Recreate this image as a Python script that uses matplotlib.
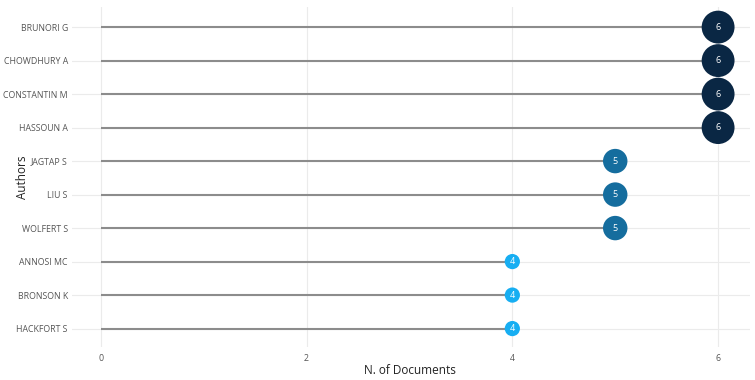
import matplotlib

matplotlib.use("Agg")

import matplotlib.pyplot as plt

plt.rcParams["font.family"] = ["Open Sans", "DejaVu Sans"]

authors = [
    "BRUNORI G", "CHOWDHURY A", "CONSTANTIN M", "HASSOUN A", "JAGTAP S",
    "LIU S", "WOLFERT S", "ANNOSI MC", "BRONSON K", "HACKFORT S",
]
docs = [6, 6, 6, 6, 5, 5, 5, 4, 4, 4]
x_ticks = [0, 2, 4, 6]

COLORS = {6: "#0a2744", 5: "#156d9e", 4: "#17aef2"}
SIZES = {6: 560, 5: 310, 4: 120}

W, H = 755, 380
L, R, T, B = 72, 750, 7, 347
fig = plt.figure(figsize=(W / 100, H / 100), dpi=100)
ax = fig.add_axes([L / W, (H - B) / H, (R - L) / W, (B - T) / H])

ypos = list(range(len(authors)))
for y, v in zip(ypos, docs):
    ax.plot([0, v], [y, y], color="#8c8c8c", linewidth=1.5, zorder=2, solid_capstyle="butt")
ax.scatter(docs, ypos, s=[SIZES[v] for v in docs], c=[COLORS[v] for v in docs],
           zorder=3, linewidths=0)
for y, v in zip(ypos, docs):
    ax.text(v, y, str(v), color="white", fontsize=6.5, ha="center", va="center", zorder=4)

ax.set_xlim(-0.28, 6.31)
ax.set_ylim(9.55, -0.6)
ax.set_xticks(x_ticks)
ax.set_yticks(ypos)
ax.set_yticklabels(authors)
ax.tick_params(axis="both", length=0, labelsize=6.3, labelcolor="#555555")
ax.tick_params(axis="y", pad=3)
ax.tick_params(axis="x", pad=5)
ax.grid(color="#ebebeb", linewidth=0.8, zorder=0)
ax.set_axisbelow(True)
for s in ax.spines.values():
    s.set_visible(False)

ax.set_xlabel("N. of Documents", fontsize=8.5, color="#222222")
ax.xaxis.set_label_coords((410 - L) / (R - L), -(371 - B) / (B - T))
ax.xaxis.label.set_va("center")
ax.set_ylabel("Authors", fontsize=8.5, color="#222222")
ax.yaxis.set_label_coords((22 - L) / (R - L), 0.5)
ax.yaxis.label.set_va("center")

fig.savefig("out.png", dpi=100)
